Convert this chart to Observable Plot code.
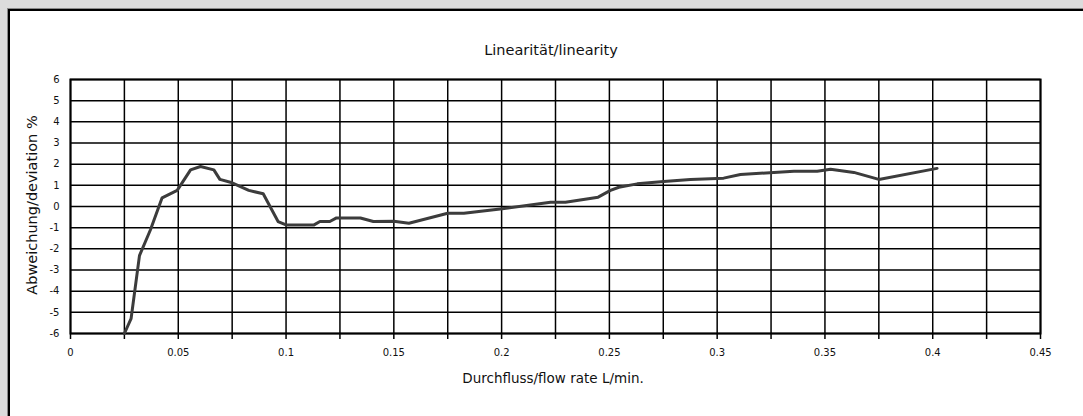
<!DOCTYPE html>
<html>
<head>
<meta charset="utf-8">
<script src="https://cdn.jsdelivr.net/npm/d3@7"></script>
<script src="https://cdn.jsdelivr.net/npm/@observablehq/plot@0.6"></script>
<style>
  html, body { margin: 0; padding: 0; width: 1083px; height: 416px; overflow: hidden; background: #dcdcdc; font-family: "DejaVu Sans", sans-serif; }
  #panel { position: absolute; left: 8px; top: 9px; width: 1200px; height: 500px; background: #fff; border-top: 2px solid #000; border-left: 2px solid #000; outline: 1px solid #8a8a8a; }
  #chart { position: absolute; left: 0; top: 0; }
  .lbl { position: absolute; color: #111; white-space: nowrap; line-height: 1; }
  #title { left: 551px; top: 43px; font-size: 14.5px; transform: translateX(-50%); }
  #xlabel { left: 553px; top: 372px; font-size: 13.5px; transform: translateX(-50%); }
  #ylabel { left: 32px; top: 205px; font-size: 14.5px; transform: translate(-50%, -50%) rotate(-90deg); }
</style>
</head>
<body>
<div id="panel"></div>
<div id="chart"></div>
<div class="lbl" id="title">Linearität/linearity</div>
<div class="lbl" id="xlabel">Durchfluss/flow rate L/min.</div>
<div class="lbl" id="ylabel">Abweichung/deviation %</div>
<script>
// flow rate (L/min)
const flow = [0.025, 0.0281, 0.032, 0.0371, 0.0425, 0.0495, 0.0557, 0.0603, 0.0665, 0.0693, 0.075, 0.0827, 0.0894, 0.0963, 0.1, 0.113, 0.1157, 0.1203, 0.1234, 0.1345, 0.1405, 0.15, 0.157, 0.175, 0.1825, 0.2003, 0.2227, 0.2296, 0.2448, 0.2505, 0.2544, 0.2629, 0.2752, 0.2876, 0.303, 0.3108, 0.3356, 0.3464, 0.3526, 0.3634, 0.375, 0.402];
// deviation (%)
const deviation = [-6.0, -5.3, -2.32, -1.1, 0.41, 0.76, 1.73, 1.89, 1.73, 1.28, 1.12, 0.76, 0.6, -0.71, -0.87, -0.87, -0.71, -0.71, -0.54, -0.54, -0.71, -0.7, -0.79, -0.32, -0.32, -0.11, 0.2, 0.2, 0.44, 0.76, 0.91, 1.07, 1.18, 1.28, 1.34, 1.51, 1.67, 1.67, 1.76, 1.61, 1.28, 1.8];
// ticks
const xGridTicks = [0, 0.025, 0.05, 0.075, 0.1, 0.125, 0.15, 0.175, 0.2, 0.225, 0.25, 0.275, 0.3, 0.325, 0.35, 0.375, 0.4, 0.425, 0.45];
const xLabelTicks = [0, 0.05, 0.1, 0.15, 0.2, 0.25, 0.3, 0.35, 0.4, 0.45];
const yTicks = [-6, -5, -4, -3, -2, -1, 0, 1, 2, 3, 4, 5, 6];

const data = flow.map((f, i) => ({flow: f, dev: deviation[i]}));

const plot = Plot.plot({
  width: 1083,
  height: 416,
  marginLeft: 70,
  marginRight: 43,
  marginTop: 79,
  marginBottom: 83,
  style: {background: "transparent", fontFamily: "'DejaVu Sans', sans-serif", fontSize: "10px", color: "#111"},
  x: {domain: [0, 0.45]},
  y: {domain: [-6, 6]},
  marks: [
    Plot.gridX(xGridTicks, {stroke: "#000", strokeOpacity: 1, strokeWidth: 1.5}),
    Plot.gridY(yTicks, {stroke: "#000", strokeOpacity: 1, strokeWidth: 1.5}),
    Plot.axisX(xGridTicks, {tickSize: 6, tickFormat: () => "", stroke: "#000", strokeWidth: 1.5, label: null}),
    Plot.axisX(xLabelTicks, {tickSize: 0, tickPadding: 15, tickFormat: d => String(d), label: null, fontSize: 10}),
    Plot.axisY(yTicks, {tickSize: 0, tickPadding: 11, tickFormat: d => String(d), label: null, fontSize: 10}),
    Plot.frame({stroke: "#000", strokeWidth: 2}),
    Plot.line(data, {x: "flow", y: "dev", stroke: "#3c3c3c", strokeWidth: 3, strokeLinejoin: "round"})
  ]
});
document.getElementById("chart").appendChild(plot);
</script>
</body>
</html>
